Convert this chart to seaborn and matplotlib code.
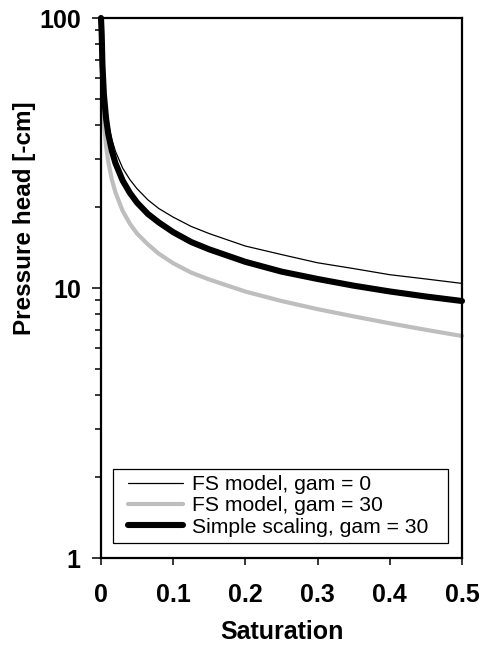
#!/usr/bin/env python3

import pandas as pd
import matplotlib
matplotlib.use('Agg')
import matplotlib.pyplot as plt
import matplotlib.ticker as mticker
from matplotlib.legend_handler import HandlerLine2D
import seaborn as sns

# Values (pressure head in -cm vs saturation)
saturation = [0, 0.001, 0.002, 0.004, 0.007, 0.01, 0.015, 0.02, 0.03, 0.04, 0.05,
              0.065, 0.08, 0.1, 0.125, 0.15, 0.2, 0.25, 0.3, 0.35, 0.4, 0.45, 0.5]
fs_gam0 = [100, 91.5, 71.8, 56.3, 46.3, 40.9, 35.5, 32.1, 27.8, 25.2, 23.3,
           21.2, 19.7, 18.3, 16.9, 15.9, 14.3, 13.3, 12.4, 11.8, 11.2, 10.8, 10.4]
fs_gam30 = [100, 70.5, 54.1, 41.6, 33.6, 29.4, 25.2, 22.6, 19.3, 17.3, 15.9,
            14.5, 13.4, 12.35, 11.4, 10.75, 9.7, 8.95, 8.35, 7.85, 7.4, 7.0, 6.64]
simple_gam30 = [100, 86.5, 67.1, 52.1, 42.5, 37.3, 32.2, 29.0, 25.0, 22.5, 20.7,
                18.8, 17.5, 16.1, 14.8, 13.9, 12.5, 11.5, 10.8, 10.2, 9.71, 9.30, 8.95]

series_names = ['FS model, gam = 0', 'FS model, gam = 30', 'Simple scaling, gam = 30']
x_ticks = [0, 0.1, 0.2, 0.3, 0.4, 0.5]
x_tick_labels = ['0', '0.1', '0.2', '0.3', '0.4', '0.5']
y_ticks = [1, 10, 100]
y_tick_labels = ['1', '10', '100']

sns.set_style('ticks')
plt.rcParams['font.family'] = ['Liberation Sans', 'DejaVu Sans']
for key in ['text.color', 'axes.labelcolor', 'xtick.color', 'ytick.color', 'axes.edgecolor']:
    plt.rcParams[key] = 'black'

fig = plt.figure(figsize=(4.8, 6.5), dpi=100)
ax = fig.add_axes([101 / 480, 92 / 650, 361 / 480, 540 / 650])

styles = [
    ('black', 0.9),
    ('#bebebe', 3.0),
    ('black', 4.4),
]
for name, values, (color, lw) in zip(series_names, [fs_gam0, fs_gam30, simple_gam30], styles):
    df = pd.DataFrame({'Saturation': saturation, 'head': values})
    sns.lineplot(data=df, x='Saturation', y='head', ax=ax, color=color, linewidth=lw,
                 label=name, sort=False, estimator=None, clip_on=False,
                 solid_capstyle='round')

ax.set_yscale('log')
ax.set_xlim(0, 0.5)
ax.set_ylim(1, 100)

ax.set_xticks(x_ticks)
ax.set_xticklabels(x_tick_labels)
ax.set_yticks(y_ticks)
ax.set_yticklabels(y_tick_labels)
ax.yaxis.set_minor_locator(mticker.LogLocator(base=10, subs=range(2, 10)))
ax.yaxis.set_minor_formatter(mticker.NullFormatter())

for lbl in ax.get_xticklabels() + ax.get_yticklabels():
    lbl.set_fontweight('bold')
    lbl.set_fontsize(18)
ax.tick_params(axis='x', which='major', direction='out', length=5, width=1.1, pad=13)
ax.tick_params(axis='y', which='major', direction='out', length=6.5, width=1.1, pad=8)
ax.tick_params(axis='y', which='minor', direction='out', length=4.3, width=1.1)

for side in ['left', 'right', 'top', 'bottom']:
    ax.spines[side].set_visible(True)
    ax.spines[side].set_linewidth(1.6)
    ax.spines[side].set_color('black')

ax.set_xlabel('Saturation', fontsize=18, fontweight='bold')
ax.set_ylabel('Pressure head [-cm]', fontsize=17.5, fontweight='bold')
ax.xaxis.set_label_coords(0.5, -0.115)
ax.yaxis.set_label_coords(-0.18, 0.63)

# legend box spans roughly x 113-448 px, y 466-543 px in the reference
leg = ax.legend(loc='lower left', bbox_to_anchor=(0.033, 0.028, 0.928, 0.14),
                mode='expand', borderaxespad=0,
                fontsize=15.2, frameon=True, fancybox=False, edgecolor='black',
                framealpha=1, handlelength=3.0, handletextpad=0.45,
                labelspacing=0.1, borderpad=0.3,
                handler_map={plt.Line2D: HandlerLine2D(xpad=0.4)})
leg.get_frame().set_linewidth(0.9)

plt.savefig('out.png', dpi=100)
plt.close()
